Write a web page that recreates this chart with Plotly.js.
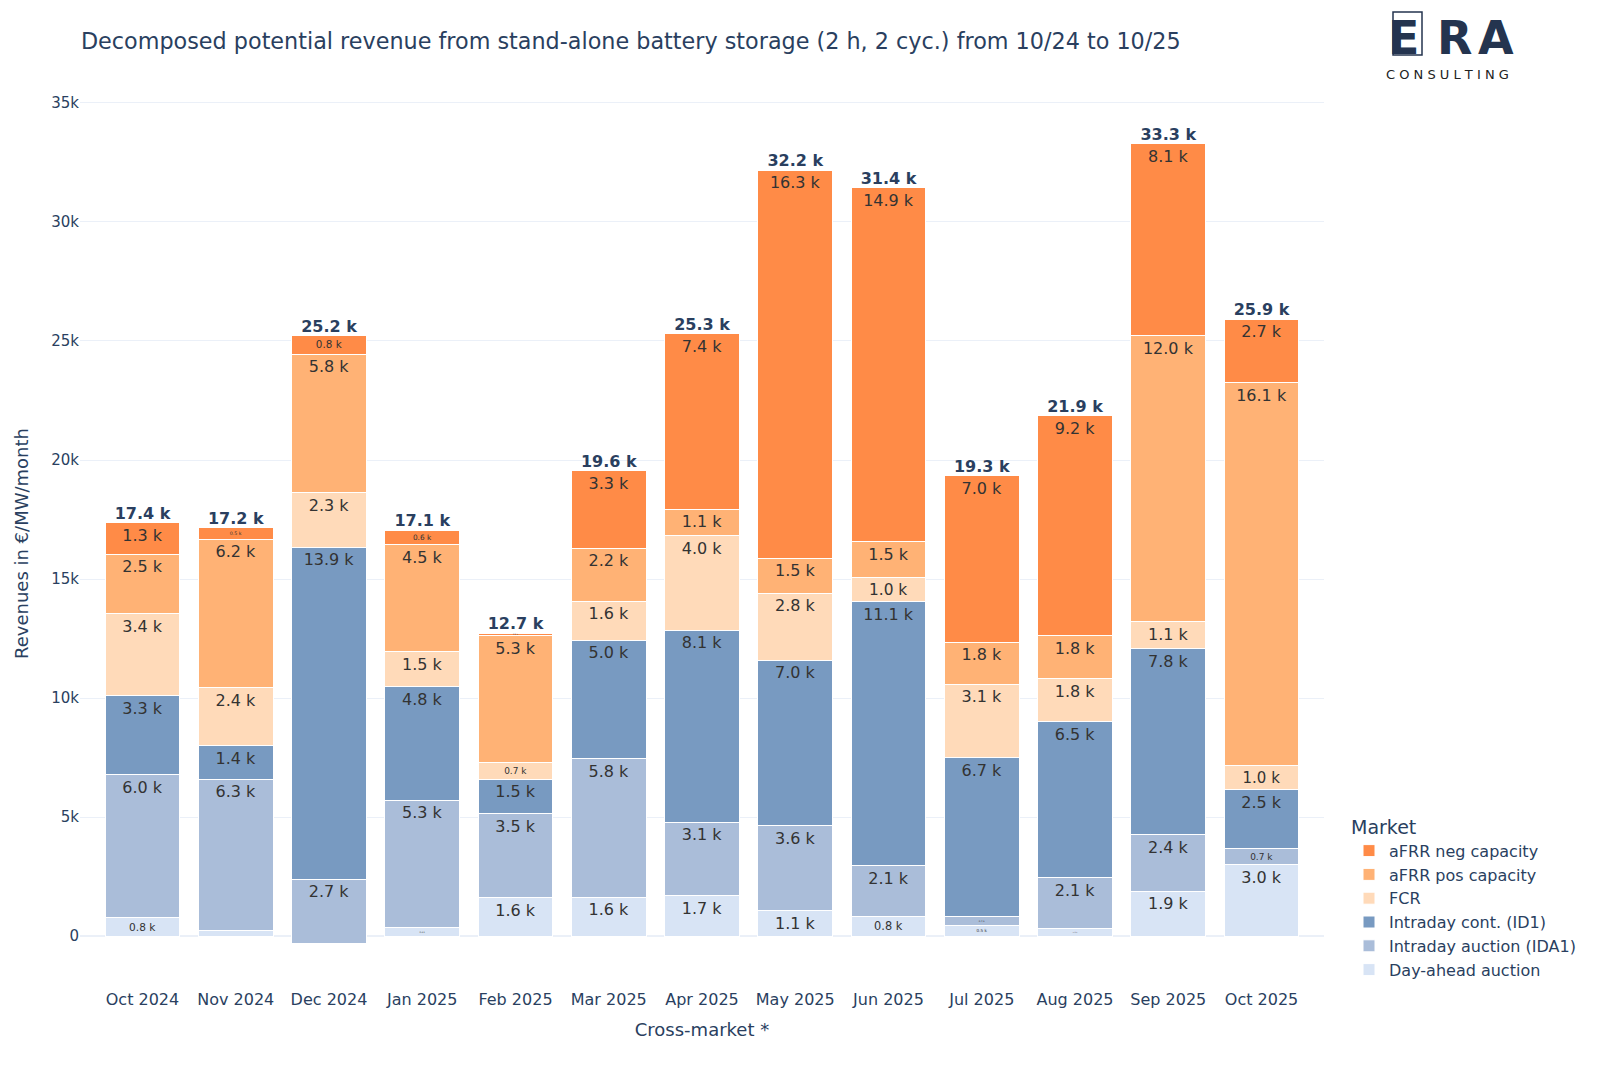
<!DOCTYPE html>
<html>
<head>
<meta charset="utf-8">
<script src="https://cdn.plot.ly/plotly-3.0.1.min.js"></script>
<style>
  html, body { margin: 0; padding: 0; background: #fff; }
  #chart { width: 1600px; height: 1067px; }
</style>
</head>
<body>
<div id="chart"></div>
<script>
// Monthly revenue components, €/MW/month
const months = ['Oct 2024', 'Nov 2024', 'Dec 2024', 'Jan 2025', 'Feb 2025', 'Mar 2025', 'Apr 2025',
  'May 2025', 'Jun 2025', 'Jul 2025', 'Aug 2025', 'Sep 2025', 'Oct 2025'];

const dayAhead     = [780, 260, -300, 360, 1620, 1630, 1700, 1070, 820, 460, 340, 1880, 3000];
const idaAuction   = [6000, 6330, 2700, 5340, 3520, 5830, 3080, 3560, 2140, 370, 2120, 2380, 700];
const idContinuous = [3320, 1410, 13940, 4770, 1460, 4980, 8060, 6960, 11080, 6660, 6540, 7820, 2460];
const fcr          = [3440, 2430, 2280, 1470, 700, 1630, 3980, 2820, 1020, 3100, 1820, 1120, 1000];
const afrrPos      = [2500, 6240, 5830, 4500, 5320, 2230, 1120, 1460, 1500, 1760, 1800, 12020, 16080];
const afrrNeg      = [1320, 490, 770, 620, 100, 3260, 7360, 16300, 14880, 6980, 9240, 8060, 2680];

const seriesNames = ['Day-ahead auction', 'Intraday auction (IDA1)', 'Intraday cont. (ID1)',
  'FCR', 'aFRR pos capacity', 'aFRR neg capacity'];
const seriesValues = [dayAhead, idaAuction, idContinuous, fcr, afrrPos, afrrNeg];
const seriesColors = ['#d8e4f5', '#aabdd9', '#789ac1', '#ffdab9', '#ffb275', '#ff8b47'];

const FONT = 'Verdana, "DejaVu Sans", sans-serif';
const NAVY = '#2a3f5f';
const LOGO = '#24344f';

function fmtK(v) {
  return (v / 1000).toFixed(1) + ' k';
}

// plot area in pixels, used only for placing the logo, legend and axis title
const plotBox = { l: 80, r: 1324, t: 91, b: 960 };
const px = x => (x - plotBox.l) / (plotBox.r - plotBox.l);
const py = y => (plotBox.b - y) / (plotBox.b - plotBox.t);

const barTraces = seriesNames.map((name, i) => ({
  type: 'bar',
  name: name,
  x: months,
  y: seriesValues[i],
  text: seriesValues[i].map(fmtK),
  textposition: 'inside',
  insidetextanchor: 'end',
  textangle: 0,
  textfont: { family: FONT, size: 16, color: '#333' },
  marker: { color: seriesColors[i], line: { color: '#ffffff', width: 1 } },
  hoverinfo: 'x+y+name'
}));

const totals = months.map((m, j) => seriesValues.reduce((acc, s) => acc + s[j], 0));

const totalTrace = {
  type: 'scatter',
  mode: 'text',
  x: months,
  y: totals,
  text: totals.map(fmtK),
  textposition: 'top center',
  textfont: { family: FONT, size: 16, color: NAVY, weight: 'bold' },
  showlegend: false,
  hoverinfo: 'skip'
};

function logoText(text, x, y, size, color, weight) {
  return {
    text: text, x: px(x), y: py(y), xref: 'paper', yref: 'paper',
    xanchor: 'center', yanchor: 'middle', showarrow: false,
    font: { family: FONT, size: size, color: color, weight: weight || 'normal' }
  };
}

const yTitle = logoText('Revenues in €/MW/month', 21, 544, 18, NAVY);
yTitle.textangle = -90;

const layout = {
  width: 1600,
  height: 1067,
  font: { family: FONT, size: 15, color: NAVY },
  paper_bgcolor: '#fff',
  plot_bgcolor: '#fff',
  barmode: 'stack',
  bargap: 0.2,
  margin: { l: plotBox.l, r: 1600 - plotBox.r, t: plotBox.t, b: 1067 - plotBox.b },
  title: {
    text: 'Decomposed potential revenue from stand-alone battery storage (2 h, 2 cyc.) from 10/24 to 10/25',
    x: 0.0506, xanchor: 'left',
    y: 0.9616, yanchor: 'middle',
    font: { family: FONT, size: 22.3, color: NAVY }
  },
  xaxis: {
    type: 'category',
    range: [-0.67, 12.67],
    showgrid: false,
    showline: false,
    ticks: '',
    ticklabelstandoff: 28,
    tickfont: { family: FONT, size: 16, color: NAVY },
    title: { text: 'Cross-market *', font: { family: FONT, size: 18, color: NAVY }, standoff: 15 }
  },
  yaxis: {
    range: [-1000, 35500],
    dtick: 5000,
    gridcolor: '#ebf0f8',
    zerolinecolor: '#ebf0f8',
    zerolinewidth: 2,
    showline: false,
    ticks: '',
    tickfont: { family: FONT, size: 15, color: NAVY }
  },
  legend: {
    title: { text: 'Market', font: { family: FONT, size: 19, color: NAVY } },
    traceorder: 'reversed',
    x: px(1349), xanchor: 'left',
    y: py(809), yanchor: 'top',
    font: { family: FONT, size: 16, color: NAVY },
    bgcolor: 'rgba(0,0,0,0)'
  },
  shapes: [
    {
      type: 'rect', xref: 'paper', yref: 'paper', layer: 'below',
      x0: px(1393), x1: px(1422), y0: py(55), y1: py(12),
      line: { color: LOGO, width: 1.5 }, fillcolor: 'rgba(0,0,0,0)'
    }
  ],
  annotations: [
    yTitle,
    logoText('E', 1403, 38, 46, LOGO, 'bold'),
    logoText('R', 1455, 38, 46, LOGO, 'bold'),
    logoText('A', 1496, 38, 46, LOGO, 'bold'),
    logoText('C O N S U L T I N G', 1448, 74, 13, '#222')
  ]
};

Plotly.newPlot('chart', [...barTraces, totalTrace], layout, { displayModeBar: false, staticPlot: true });
</script>
</body>
</html>
